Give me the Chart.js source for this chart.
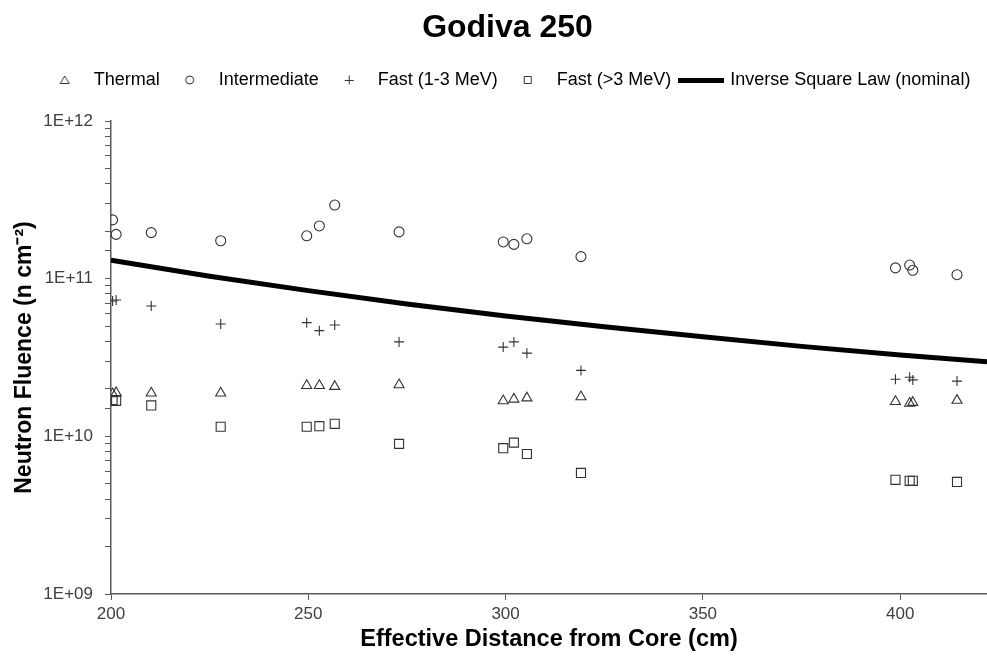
<!DOCTYPE html>
<html>
<head>
<meta charset="utf-8">
<title>Godiva 250</title>
<script src="https://cdn.jsdelivr.net/npm/chart.js@4.4.1/dist/chart.umd.min.js"></script>
<style>
  html, body { margin: 0; padding: 0; background: #fff; }
  #wrap { width: 987px; height: 658px; }
</style>
</head>
<body>
<div id="wrap"><canvas id="chart" width="987" height="658"></canvas></div>
<script>
/* ── Data ───────────────────────────────────────────────────── */

// effective distance from core, cm
const distances = [200.4, 201.3, 210.2, 227.8, 249.6, 252.8, 256.7, 273.0,
                   299.4, 302.1, 305.4, 319.1, 398.8, 402.4, 403.2, 414.4];

// neutron fluence, n cm^-2
const thermal      = [1.86e10, 1.89e10, 1.88e10, 1.88e10, 2.10e10, 2.10e10, 2.07e10, 2.12e10,
                      1.68e10, 1.72e10, 1.75e10, 1.78e10, 1.66e10, 1.62e10, 1.64e10, 1.69e10];
const intermediate = [2.36e11, 1.91e11, 1.96e11, 1.74e11, 1.87e11, 2.16e11, 2.93e11, 1.98e11,
                      1.71e11, 1.65e11, 1.79e11, 1.38e11, 1.17e11, 1.22e11, 1.13e11, 1.06e11];
const fastLow      = [7.22e10, 7.33e10, 6.71e10, 5.16e10, 5.26e10, 4.68e10, 5.08e10, 3.97e10,
                      3.68e10, 3.97e10, 3.37e10, 2.62e10, 2.30e10, 2.37e10, 2.28e10, 2.24e10];
const fastHigh     = [1.70e10, 1.68e10, 1.57e10, 1.15e10, 1.15e10, 1.16e10, 1.20e10, 8.96e9,
                      8.41e9, 9.12e9, 7.73e9, 5.86e9, 5.30e9, 5.22e9, 5.22e9, 5.14e9];

// nominal inverse square law curve
const lawDistances = [200, 225, 250, 275, 300, 325, 350, 375, 400, 422];
const lawFluence   = [1.31e11, 1.035e11, 8.4e10, 6.9e10, 5.8e10, 4.95e10, 4.28e10, 3.72e10, 3.28e10, 2.97e10];

const seriesNames = ["Thermal", "Intermediate", "Fast (1-3 MeV)", "Fast (>3 MeV)", "Inverse Square Law (nominal)"];
const xTicks      = [200, 250, 300, 350, 400];
const yDecades    = [1e9, 1e10, 1e11, 1e12];
const yTickLabels = ["1E+09", "1E+10", "1E+11", "1E+12"];

/* ── Style ──────────────────────────────────────────────────── */

const INK  = "#333333";
const AXIS = "#595959";
const TEXT = "#404040";

Chart.defaults.font.family = '"Liberation Sans", Arial, sans-serif';
Chart.defaults.color = TEXT;

const pts = (xs, ys) => xs.map((x, i) => ({ x, y: ys[i] }));

// small canvases used as legend symbols (keeps Chart.js legend spacing even)
function glyph(kind) {
  const c = document.createElement("canvas");
  const g = c.getContext("2d");
  if (kind === "line") {
    c.width = 46; c.height = 5;
    g.fillStyle = "#000";
    g.fillRect(0, 0, 46, 5);
    return c;
  }
  c.width = 12; c.height = 12;
  g.strokeStyle = INK;
  g.lineWidth = 1;
  g.beginPath();
  if (kind === "triangle") {
    g.moveTo(6, 2); g.lineTo(10.5, 9.5); g.lineTo(1.5, 9.5); g.closePath();
  } else if (kind === "circle") {
    g.arc(6, 6, 4, 0, Math.PI * 2);
  } else if (kind === "cross") {
    g.moveTo(6.5, 1.5); g.lineTo(6.5, 10.5);
    g.moveTo(2, 6.5); g.lineTo(11, 6.5);
  } else {
    g.rect(2.5, 2.5, 7, 7);
  }
  g.stroke();
  return c;
}
const legendGlyphs = [glyph("triangle"), glyph("circle"), glyph("cross"), glyph("rect"), glyph("line")];

function markerSet(label, data, style, radius) {
  return {
    label, data,
    pointStyle: style,
    pointRadius: radius,
    pointHoverRadius: radius,
    pointBorderColor: INK,
    pointBackgroundColor: "rgba(0,0,0,0)",
    pointBorderWidth: 1.1,
    showLine: false,
  };
}

/* ── Chart ──────────────────────────────────────────────────── */

new Chart(document.getElementById("chart"), {
  type: "scatter",
  data: {
    datasets: [
      markerSet(seriesNames[0], pts(distances, thermal), "triangle", 5.8),
      markerSet(seriesNames[1], pts(distances, intermediate), "circle", 5),
      markerSet(seriesNames[2], pts(distances, fastLow), "cross", 5),
      markerSet(seriesNames[3], pts(distances, fastHigh), "rect", 6.4),
      {
        label: seriesNames[4],
        data: pts(lawDistances, lawFluence),
        showLine: true,
        borderColor: "#000",
        borderWidth: 5,
        pointRadius: 0,
        pointHoverRadius: 0,
        tension: 0,
      },
    ],
  },
  options: {
    responsive: false,
    animation: false,
    events: [],
    layout: { autoPadding: false, padding: { left: 28, right: 0, top: 0, bottom: 0 } },
    plugins: {
      title: {
        display: true,
        text: "Godiva 250",
        color: "#000",
        font: { size: 32, weight: "bold" },
        padding: { top: 9, bottom: 13.6 },
      },
      // empty spacer between legend and plot area
      subtitle: {
        display: true,
        text: "",
        weight: 500,
        font: { size: 10 },
        padding: { top: 5, bottom: 5 },
      },
      legend: {
        position: "top",
        labels: {
          usePointStyle: true,
          pointStyleWidth: 40,
          padding: 10,
          color: TEXT,
          font: { size: 18 },
          generateLabels: chart => chart.data.datasets.map((ds, i) => ({
            text: ds.label,
            pointStyle: legendGlyphs[i],
            fillStyle: "rgba(0,0,0,0)",
            strokeStyle: "rgba(0,0,0,0)",
            lineWidth: 0,
            hidden: false,
            datasetIndex: i,
          })),
        },
      },
      tooltip: { enabled: false },
    },
    scales: {
      x: {
        type: "linear",
        min: 200,
        max: 422,
        afterBuildTicks: s => { s.ticks = xTicks.map(v => ({ value: v })); },
        afterFit: s => { s.height = 64; s.paddingLeft = 0; s.paddingRight = 0; },
        border: { color: AXIS, width: 1.5 },
        grid: { drawOnChartArea: false, drawTicks: true, tickLength: 6, color: AXIS },
        ticks: { color: TEXT, font: { size: 17 }, padding: 4, maxRotation: 0, autoSkip: false },
        title: {
          display: true,
          text: "Effective Distance from Core (cm)",
          color: "#000",
          font: { size: 23.5, weight: "bold" },
          padding: { top: 0, bottom: 4 },
        },
      },
      y: {
        type: "logarithmic",
        min: 1e9,
        max: 1e12,
        afterFit: s => { s.width = 83; },
        border: { color: AXIS, width: 1.5 },
        grid: { drawOnChartArea: false, drawTicks: true, tickLength: 6, color: AXIS },
        ticks: {
          autoSkip: false,
          color: TEXT,
          font: { size: 17 },
          padding: 12,
          callback: v => {
            const k = yDecades.findIndex(d => Math.abs(d - v) / d < 1e-6);
            return k >= 0 ? yTickLabels[k] : "";
          },
        },
        title: {
          display: true,
          text: "Neutron Fluence (n cm⁻²)",
          color: "#000",
          font: { size: 23, weight: "bold" },
          padding: { top: -17, bottom: 0 },
        },
      },
    },
  },
});
</script>
</body>
</html>
